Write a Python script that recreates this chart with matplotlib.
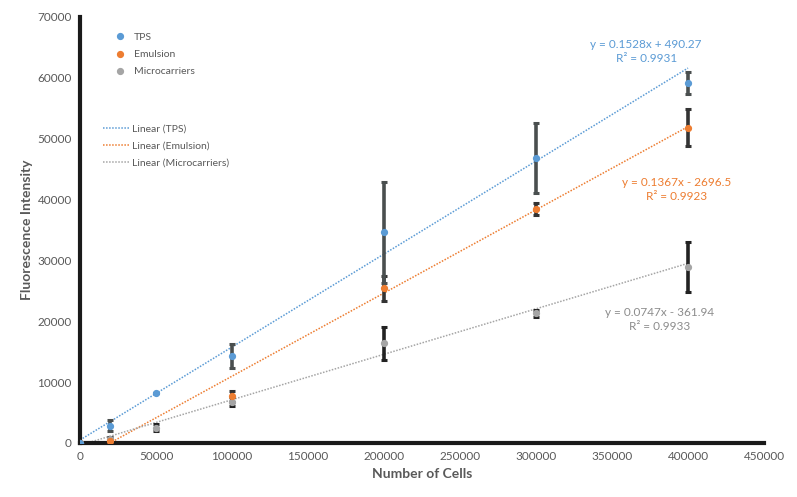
import numpy as np
import matplotlib.pyplot as plt
from matplotlib.lines import Line2D

# ── Data ──────────────────────────────────────────────────────────────────────
cells = [0, 20000, 50000, 100000, 200000, 300000, 400000]

tps_mean = [0, 2800, 8200, 14300, 34600, 46800, 59200]
tps_err = [0, 900, 0, 1900, 8300, 5700, 1800]

emul_cells = [0, 20000, 100000, 200000, 300000, 400000]
emul_mean = [0, 250, 7700, 25400, 38500, 51800]
emul_err = [0, 150, 900, 2000, 1000, 3000]

micro_mean = [0, 650, 2500, 6800, 16400, 21300, 28900]
micro_err = [0, 300, 600, 800, 2700, 600, 4100]

# trendline coefficients (slope, intercept) and R²
tps_fit = (0.1528, 490.27, 0.9931)
emul_fit = (0.1367, -2696.5, 0.9923)
micro_fit = (0.0747, -361.94, 0.9933)

c_tps = '#5B9BD5'
c_emul = '#ED7D31'
c_micro = '#A5A5A5'
txt_col = '#595959'

plt.rcParams['font.family'] = ['Lato', 'DejaVu Sans']

fig = plt.figure(figsize=(7.97, 4.97), dpi=100)
ax = fig.add_axes([0.1004, 0.1087, 0.8582, 0.8571])

# ── Trendlines ────────────────────────────────────────────────────────────────
xl = np.array([0, 400000])
for (m, b, r2), col in [(tps_fit, c_tps), (emul_fit, c_emul), (micro_fit, c_micro)]:
    ax.plot(xl, m * xl + b, ls=(0, (1, 1)), color=col, lw=1.1, zorder=2)

# ── Points with error bars ────────────────────────────────────────────────────
eb_kw = dict(elinewidth=2.6, capsize=2.5, capthick=2.2, ls='none', zorder=3)
ax.errorbar(cells, micro_mean, yerr=micro_err, fmt='none', ecolor='#222222', **eb_kw)
ax.errorbar(emul_cells, emul_mean, yerr=emul_err, fmt='none', ecolor='#333333', **eb_kw)
ax.errorbar(cells, tps_mean, yerr=tps_err, fmt='none', ecolor='#4A4F4F', **eb_kw)
ax.plot(cells, micro_mean, 'o', color=c_micro, ms=4.2, zorder=4)
ax.plot(emul_cells, emul_mean, 'o', color=c_emul, ms=4.2, zorder=4)
ax.plot(cells, tps_mean, 'o', color=c_tps, ms=4.2, zorder=4)

# ── Equations ─────────────────────────────────────────────────────────────────
def eq_text(fit, x, y, col):
    m, b, r2 = fit
    sign = '+' if b >= 0 else '-'
    ax.text(x, y, f'y = {m:.4f}x {sign} {abs(b):g}\nR² = {r2:.4f}',
            ha='center', va='center', color=col, fontsize=8.5, linespacing=1.35)

eq_text(tps_fit, 372500, 64300, c_tps)
eq_text(emul_fit, 392500, 41700, c_emul)
eq_text(micro_fit, 381000, 20300, '#8C8C8C')

# ── Axes styling ──────────────────────────────────────────────────────────────
ax.set_xlim(0, 450000)
ax.set_ylim(0, 70000)
ax.set_xticks(np.arange(0, 450001, 50000))
ax.set_yticks(np.arange(0, 70001, 10000))
for s in ['top', 'right']:
    ax.spines[s].set_visible(False)
for s in ['left', 'bottom']:
    ax.spines[s].set_linewidth(3)
    ax.spines[s].set_color('#1A1A1A')
ax.tick_params(length=0, labelsize=8.5, labelcolor=txt_col, pad=6)
ax.set_xlabel('Number of Cells', fontsize=10, fontweight='bold', color=txt_col, labelpad=4)
ax.set_ylabel('Fluorescence Intensity', fontsize=10, fontweight='bold', color=txt_col, labelpad=3)

# ── Legends ───────────────────────────────────────────────────────────────────
mk = [Line2D([], [], marker='o', ls='none', color=c, ms=4.2) for c in (c_tps, c_emul, c_micro)]
leg1 = ax.legend(mk, ['TPS', 'Emulsion', 'Microcarriers'], loc='upper left',
                 bbox_to_anchor=(0.035, 0.985), frameon=False, fontsize=7.5,
                 handlelength=1.2, labelspacing=0.75, labelcolor=txt_col)
ax.add_artist(leg1)
ln = [Line2D([], [], ls=(0, (1, 1)), color=c, lw=1.1) for c in (c_tps, c_emul, c_micro)]
ax.legend(ln, ['Linear (TPS)', 'Linear (Emulsion)', 'Linear (Microcarriers)'],
          loc='upper left', bbox_to_anchor=(0.02, 0.77), frameon=False, fontsize=7.5,
          handlelength=2.6, handletextpad=0.2, labelspacing=0.75, labelcolor=txt_col)

fig.savefig('out.png', dpi=100)
